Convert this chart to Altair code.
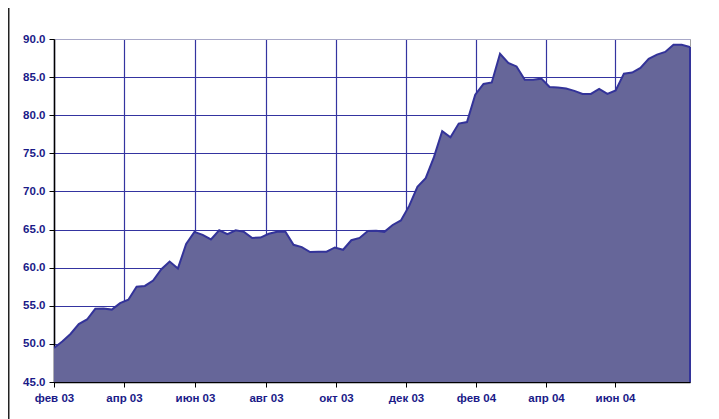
import altair as alt
import pandas as pd

# weekly observations, Feb 2003 .. Jul 2004
values = [
    49.45, 50.3, 51.3, 52.6, 53.2, 54.6, 54.65, 54.5, 55.35, 55.8,
    57.5, 57.6, 58.3, 59.8, 60.8, 59.9, 63.1, 64.7, 64.3, 63.7,
    64.9, 64.4, 64.9, 64.7, 63.9, 63.95, 64.45, 64.7, 64.75, 63.0,
    62.7, 62.05, 62.1, 62.1, 62.65, 62.35, 63.6, 63.9, 64.8, 64.85,
    64.7, 65.6, 66.2, 68.1, 70.6, 71.75, 74.5, 77.9, 77.1, 78.9,
    79.1, 82.7, 84.1, 84.3, 88.07, 86.85, 86.4, 84.65, 84.65, 84.8,
    83.7, 83.65, 83.5, 83.2, 82.8, 82.8, 83.45, 82.8, 83.25, 85.45,
    85.6, 86.2, 87.4, 87.95, 88.3, 89.25, 89.25, 88.95,
]
weeks = list(range(len(values)))

# month ticks (position in weeks) and their labels
tick_pos = [0, 8.47, 17.07, 25.67, 34.14, 42.62, 51.09, 59.57, 67.92]
tick_labels = ["фев 03", "апр 03", "июн 03", "авг 03", "окт 03",
               "дек 03", "фев 04", "апр 04", "июн 04"]
y_ticks = [45, 50, 55, 60, 65, 70, 75, 80, 85, 90]

df = pd.DataFrame({"week": weeks, "value": values})

label_expr = "[" + ",".join(f"'{t}'" for t in tick_labels) + "][indexof([" + \
    ",".join(str(p) for p in tick_pos) + "], datum.value)]"

FONT = "Liberation Sans"
LBL = "#1a1a88"
GRID = "#3434a0"

x_enc = alt.X("week:Q", scale=alt.Scale(domain=[0, len(values) - 1], nice=False, zero=False),
              axis=alt.Axis(values=tick_pos, tickCount=len(tick_pos) + 2,
                            labelExpr=label_expr, title=None,
                            grid=True, gridColor=GRID, gridWidth=1.2,
                            domainColor="black", domainWidth=1.5,
                            tickColor="black", tickSize=5, tickWidth=1,
                            labelFont=FONT, labelFontSize=11.5, labelFontWeight="bold",
                            labelColor=LBL, labelPadding=5, labelFlush=False,
                            labelOverlap=False))
y_enc = alt.Y("value:Q", scale=alt.Scale(domain=[45, 90], nice=False, zero=False),
              axis=alt.Axis(values=y_ticks, tickCount=len(y_ticks) + 2,
                            format=".1f", title=None,
                            grid=True,
                            gridColor={"condition": {"test": "datum.value >= 90", "value": "#a8a8c8"},
                                       "value": GRID},
                            gridWidth=1.2,
                            domainColor="black", domainWidth=1.5,
                            tickColor="black", tickSize=5, tickWidth=1,
                            labelFont=FONT, labelFontSize=11.5, labelFontWeight="bold",
                            labelColor=LBL, labelPadding=4, labelOverlap=False,
                            labelFlush=False))

area = alt.Chart(df).mark_area(color="#666699", opacity=1,
                               line={"color": "#333399", "strokeWidth": 2},
                               clip=True).encode(x=x_enc, y=y_enc)

edge = alt.Chart(df.tail(1)).mark_rule(color="#333399", strokeWidth=2).encode(
    x="week:Q", y="value:Q", y2=alt.datum(45))

frame = alt.Chart(alt.Data(values=[{}])).mark_rule(color="#222222", strokeWidth=2).encode(
    x=alt.value(-45.5), y=alt.value(-31), y2=alt.value(380))

chart = alt.layer(area, edge, frame).properties(
    width=636, height=343,
    autosize=alt.AutoSizeParams(type="none"),
    padding={"left": 46, "top": 31, "right": 20, "bottom": 37},
).configure_view(stroke="#a0a0a0", strokeWidth=1)

chart.save("out.html", embed_options={"renderer": "svg", "actions": False})
